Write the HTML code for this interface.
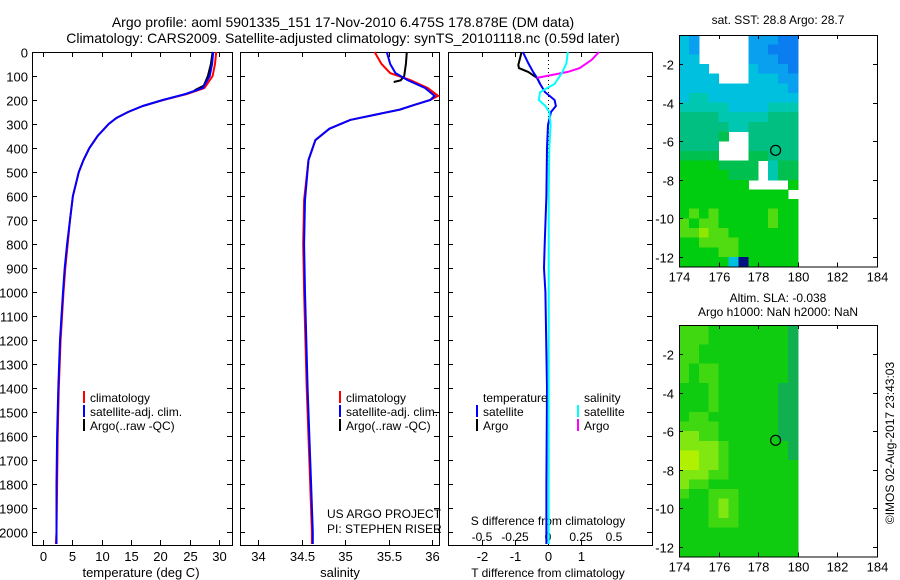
<!DOCTYPE html>
<html><head><meta charset="utf-8"><style>
body{margin:0;background:#fff;}
svg{display:block;font-family:"Liberation Sans",sans-serif;}
text{fill:#000;}
</style></head><body>
<svg id="c" width="900" height="580" viewBox="0 0 900 580" shape-rendering="crispEdges"></svg>
<script>
// ---- data ----
const depthT = [0,50,100,150,175,200,225,250,275,300,350,400,450,500,600,700,800,900,1000,1200,1400,1600,1800,2000,2050];
const tempClim = [29.5,29.3,28.9,27.5,24.5,20.5,17,14.5,12.5,11.2,9.3,7.9,6.9,6.1,5.1,4.6,4.2,3.8,3.5,3.0,2.7,2.5,2.4,2.3,2.2];
const tempSat = [29.0,28.8,28.4,27.2,24.3,20.4,17,14.5,12.5,11.2,9.3,7.9,6.9,6.1,5.1,4.6,4.1,3.7,3.4,2.9,2.6,2.4,2.3,2.3,2.3];
const depthArgoT = [0,50,100,140,160];
const tempArgo = [28.9,28.6,28.1,27.4,25.8];
const depthS = [0,50,88,117,150,183,200,220,240,283,320,367,450,617,800,1000,1400,1800,2000,2050];
const salClim = [35.34,35.42,35.52,35.75,35.95,36.07,35.98,35.8,35.63,35.06,34.82,34.66,34.58,34.53,34.52,34.53,34.56,34.6,34.62,34.62];
const salSat = [35.48,35.52,35.58,35.72,35.92,36.03,35.98,35.8,35.63,35.06,34.82,34.66,34.58,34.54,34.53,34.54,34.57,34.61,34.63,34.63];
const depthArgoS = [0,50,100,118,125];
const salArgo = [35.71,35.70,35.68,35.64,35.56];
const depthD = [0,46,83,108,133,167,200,225,250,304,400,600,800,900,1000,1400,1800,2050];
const tDiffSat = [-0.76,-0.6,-0.45,-0.33,-0.24,-0.09,0.2,0.24,0.09,0,-0.03,-0.05,-0.1,-0.12,-0.08,-0.03,-0.05,-0.05];
const depthDA = [0,54,67,83,108,130];
const tDiffArgo = [-0.8,-0.9,-0.88,-0.6,-0.33,-0.25];
const sDiffSat = [0.15,0.14,0.11,0.08,0.05,-0.06,-0.07,-0.02,0.01,0.02,0.01,0.005,0.005,0.005,0.005,0.005,0.005,0.005];
const depthDSA = [0,33,67,83,108];
const sDiffArgo = [0.386,0.33,0.24,0.15,-0.083];
const depthTicks = [0,100,200,300,400,500,600,700,800,900,1000,1100,1200,1300,1400,1500,1600,1700,1800,1900,2000];
const tempTicks = [0,5,10,15,20,25,30];
const salTicks = [34,34.5,35,35.5,36];
const salTickLabels = ["34","34.5","35","35.5","36"];
const tdTicks = [-2,-1,0,1];
const sdTicks = [-0.5,-0.25,0,0.25,0.5];
const sdTickLabels = ["-0.5","-0.25","0","0.25","0.5"];
const lonTicks = [174,176,178,180,182,184];
const latTicks = [-2,-4,-6,-8,-10,-12];
const sstGrid = ["21.....11100","21.....11000","22.....11100","222....21110","2222...22211","222222222221","233222222222","333332222333","444433333444","444443344444","44445..44444","4444...44444","5555...55444","66665555.355","66666555.355","6666666....6","66666666666.","666666666666","676766666766","767766666766","778776666666","667777666666","666677666666","666662D66666"];
const slaGrid = ["777666666665","777666666665","776666666665","776666666665","767766666665","767766666665","666766666655","666766666655","666766666655","677666666655","777766666655","887766666655","888876666665","998876666665","998876666666","888776666666","877666666666","766777666666","666787666666","666787666666","666777666666","666666666666","666666666666","666666666666"];
// ---- helpers ----
const S = document.getElementById('c'), NS='http://www.w3.org/2000/svg';
function mk(tag, at, parent){const e=document.createElementNS(NS,tag);for(const k in at)e.setAttribute(k,at[k]);(parent||S).appendChild(e);return e;}
function txt(x,y,s,size,anchor,name){const t=mk('text',{x:x,y:y,'font-size':size,'text-anchor':anchor||'start'});t.textContent=s;


return t;}
const Y0=52, PX100=24;
const yD = d => Y0 + d*PX100/100;
const PB=545;
const xT = v => 43 + v*5.87;
const xS = v => 258 + (v-34)*87;
const xTD = v => 548 + v*33;
const xSD = v => 548 + v*132;
function line(xs, ds, fx, color, name, w){
  const pts = xs.map((v,i)=>fx(v).toFixed(1)+','+yD(ds[i]).toFixed(1)).join(' ');
  const p = mk('polyline',{points:pts,fill:'none',stroke:color,'stroke-width':w||2,'shape-rendering':'auto'});
  
  
}
function frame(x0,x1,name,labels){
  const r=mk('rect',{x:x0+0.5,y:Y0+0.5,width:x1-x0,height:PB-Y0,fill:'none',stroke:'#000'});
  
  
  depthTicks.forEach(d=>{const y=Math.round(yD(d))+0.5;
    mk('line',{x1:x0,y1:y,x2:x0+5,y2:y,stroke:'#000'});
    mk('line',{x1:x1-5,y1:y,x2:x1,y2:y,stroke:'#000'});
    if(labels) txt(x0-4,y+5,String(d),13,'end','depth-tick-label');
  });
}
function xticks(ticks,labs,fx,ylab,name){
  ticks.forEach((v,i)=>{const x=Math.round(fx(v))+0.5;
    mk('line',{x1:x,y1:PB,x2:x,y2:PB-5,stroke:'#000'});
    mk('line',{x1:x,y1:Y0,x2:x,y2:Y0+5,stroke:'#000'});
    if(ylab) txt(x,ylab,labs[i],13,'middle',name);
  });
}
// titles
txt(343,27,'Argo profile: aoml 5901335_151 17-Nov-2010 6.475S 178.878E (DM data)',14,'middle','figure-title');
txt(343,43,'Climatology: CARS2009. Satellite-adjusted climatology: synTS_20101118.nc (0.59d later)',14,'middle','figure-subtitle');
// panel 1 temperature
frame(32,232,'temperature-panel',true);
xticks(tempTicks,tempTicks.map(String),xT,561,'temperature-tick-label');
txt(141,577,'temperature (deg C)',13,'middle','temperature-axis-title');
line(tempClim,depthT,xT,'#ff0000','temperature-climatology-line');
line(tempArgo,depthArgoT,xT,'#000000','temperature-argo-line');
line(tempSat,depthT,xT,'#0000ff','temperature-satellite-line');
// panel 2 salinity
frame(240,439,'salinity-panel',false);
xticks(salTicks,salTickLabels,xS,561,'salinity-tick-label');
txt(340,577,'salinity',13,'middle','salinity-axis-title');
line(salClim,depthS,xS,'#ff0000','salinity-climatology-line');
line(salArgo,depthArgoS,xS,'#000000','salinity-argo-line');
line(salSat,depthS,xS,'#0000ff','salinity-satellite-line');
txt(327,518,'US ARGO PROJECT',12,'start','project-label');
txt(327,533,'PI: STEPHEN RISER',12,'start','pi-label');
// panel 3 differences
frame(448,652,'difference-panel',false);
mk('line',{x1:548.5,y1:Y0,x2:548.5,y2:PB,stroke:'#000','stroke-dasharray':'1,3'});
xticks(tdTicks,tdTicks.map(String),xTD,561,'t-diff-tick-label');
sdTicks.forEach((v,i)=>txt(xSD(v),541,sdTickLabels[i],12,'middle','s-diff-tick-label'));
txt(548,525,'S difference from climatology',12,'middle','s-diff-axis-title');
txt(548,577,'T difference from climatology',12,'middle','t-diff-axis-title');
line(tDiffArgo,depthDA,xTD,'#000000','t-diff-argo-line');
line(tDiffSat,depthD,xTD,'#0000ff','t-diff-satellite-line');
line(sDiffArgo,depthDSA,xSD,'#ff00ff','s-diff-argo-line');
line(sDiffSat,depthD,xSD,'#00ffff','s-diff-satellite-line');
// legends
function leg(x,y,color,label,name){
  if(color) mk('rect',{x:x,y:y-7,width:2,height:12,fill:color});
  txt(x+7,y+4,label,12,'start',name);
}
leg(83,398,'#ff0000','climatology','legend-climatology');
leg(83,412,'#0000ff','satellite-adj. clim.','legend-satellite');
leg(83,426,'#000000','Argo(..raw -QC)','legend-argo');
leg(339,398,'#ff0000','climatology','legend2-climatology');
leg(339,412,'#0000ff','satellite-adj. clim.','legend2-satellite');
leg(339,426,'#000000','Argo(..raw -QC)','legend2-argo');
leg(476,398,null,'temperature','legend3-temperature');
leg(476,412,'#0000ff','satellite','legend3-t-satellite');
leg(476,426,'#000000','Argo','legend3-t-argo');
leg(577,398,null,'salinity','legend3-salinity');
leg(577,412,'#00ffff','satellite','legend3-s-satellite');
leg(577,426,'#ff00ff','Argo','legend3-s-argo');
// maps
const pal1={'0':'#0a7ef0','1':'#0aa0f0','2':'#00c0e0','3':'#00c8b0','4':'#00bf80','5':'#00c050','6':'#00cc10','7':'#50dc10','8':'#90e800','D':'#001080'};
const pal2={'5':'#10b050','6':'#10cc10','7':'#40d810','8':'#80e810','9':'#b0f000'};
function mapPanel(top,grid,pal,name){
  const lx=v=>679+(v-174)*19.8, ly=v=>top+(-0.5-v)*19.3;
  const g=mk('g',{});
  
  
  grid.forEach((row,r)=>{for(let c=0;c<row.length;c++){const ch=row[c];if(!pal[ch])continue;
    const x0=lx(174+c*0.5), y0=ly(-0.5-r*0.5);
    mk('rect',{x:x0.toFixed(1),y:y0.toFixed(1),width:(9.9+0.5).toFixed(1),height:(9.65+0.5).toFixed(1),fill:pal[ch]},g);}});
  const bot=ly(-12.5);
  mk('rect',{x:679.5,y:top+0.5,width:198,height:bot-top,fill:'none',stroke:'#000'});
  lonTicks.forEach(v=>{const x=Math.round(lx(v))+0.5;mk('line',{x1:x,y1:top,x2:x,y2:top+4,stroke:'#000'});mk('line',{x1:x,y1:bot,x2:x,y2:bot-4,stroke:'#000'});
    txt(x,bot+15,String(v),13,'middle','longitude-tick-label');});
  latTicks.forEach(v=>{const y=Math.round(ly(v))+0.5;mk('line',{x1:679,y1:y,x2:683,y2:y,stroke:'#000'});mk('line',{x1:873,y1:y,x2:877,y2:y,stroke:'#000'});
    txt(674,y+5,String(v),13,'end','latitude-tick-label');});
  const ci=mk('circle',{cx:lx(178.878),cy:ly(-6.475),r:5,fill:'none',stroke:'#000','stroke-width':1.2,'shape-rendering':'auto'});
  
  
}
mapPanel(35,sstGrid,pal1,'sst-map');
mapPanel(325,slaGrid,pal2,'sla-map');
txt(778,24,'sat. SST: 28.8 Argo: 28.7',12,'middle','sst-map-title');
txt(778,302,'Altim. SLA: -0.038',12,'middle','sla-map-title');
txt(778,316,'Argo h1000: NaN h2000: NaN',12,'middle','sla-map-subtitle');
const cr=txt(0,0,'©IMOS 02-Aug-2017 23:43:03',12,'middle','copyright-label');
cr.setAttribute('transform','translate(894,443) rotate(-90)');
</script>
</body></html>
